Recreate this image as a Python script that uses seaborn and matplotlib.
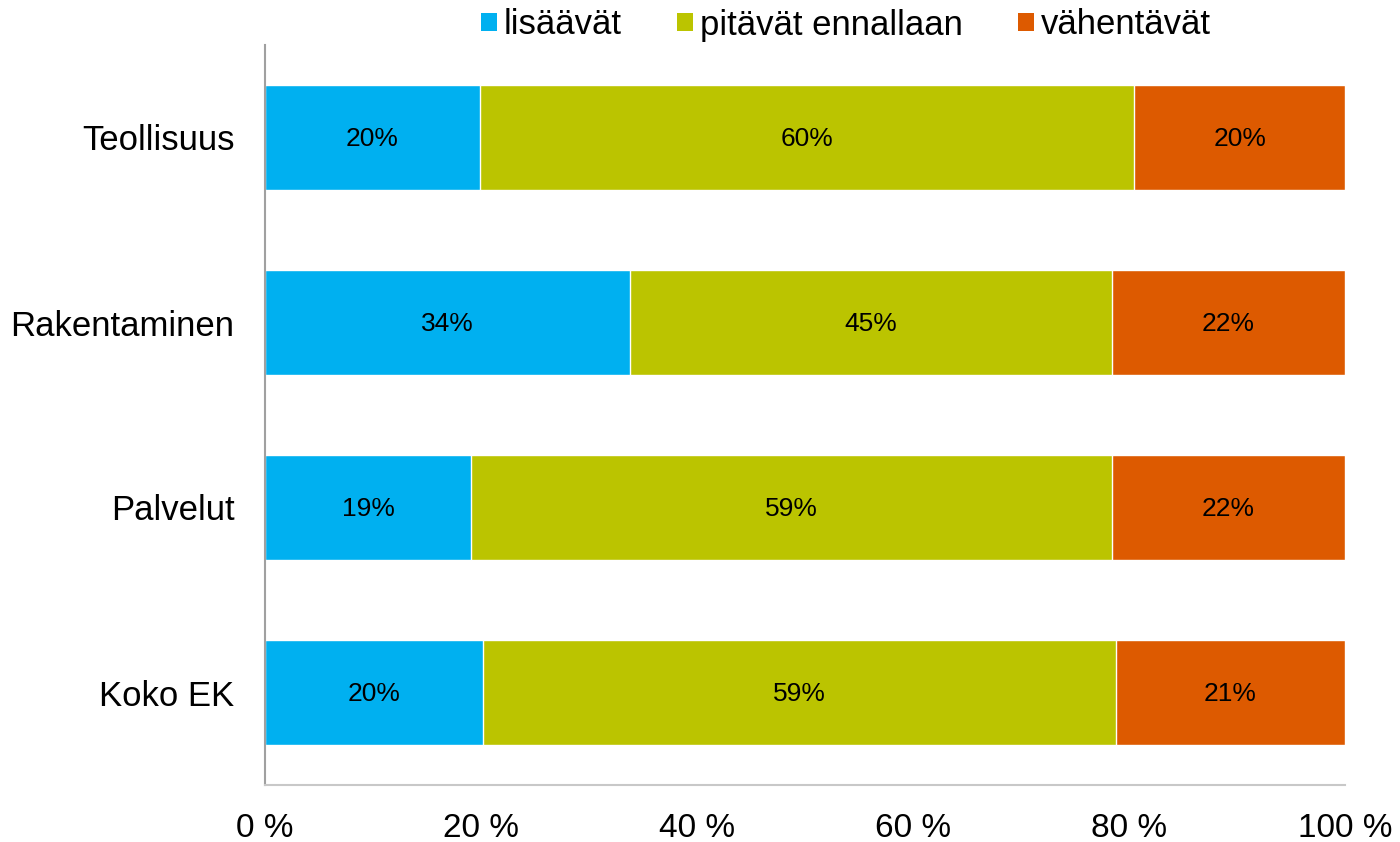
import pandas as pd
import matplotlib.pyplot as plt
import seaborn as sns
from matplotlib.patches import Patch

# Data (share of respondents, %)
categories = ['Teollisuus', 'Rakentaminen', 'Palvelut', 'Koko EK']
lisaavat = [19.9, 33.8, 19.1, 20.2]
pitavat = [60.6, 44.6, 59.3, 58.6]
vahentavat = [19.5, 21.6, 21.6, 21.2]
labels_lis = ['20%', '34%', '19%', '20%']
labels_pit = ['60%', '45%', '59%', '59%']
labels_vah = ['20%', '22%', '22%', '21%']
series_names = ['lisäävät', 'pitävät ennallaan', 'vähentävät']
colors = ['#00B0F0', '#BBC400', '#DD5A00']
x_ticks = [0, 20, 40, 60, 80, 100]

sns.set_style('white')
plt.rcParams['font.family'] = ['Liberation Sans', 'DejaVu Sans']
plt.rcParams['text.color'] = 'black'
plt.rcParams['xtick.color'] = 'black'
plt.rcParams['ytick.color'] = 'black'

df = pd.DataFrame({'kategoria': categories, 'lis': lisaavat, 'pit': pitavat, 'vah': vahentavat})
df['cum1'] = df['lis'] + df['pit']
df['cum2'] = df['cum1'] + df['vah']

fig = plt.figure(figsize=(14, 8.42), dpi=100)
ax = fig.add_axes([265 / 1400, 1 - 785 / 842, 1080 / 1400, 740 / 842])

# stacked: draw cumulative totals back to front
sns.barplot(data=df, y='kategoria', x='cum2', color=colors[2], orient='h', width=0.57, ax=ax, saturation=1)
sns.barplot(data=df, y='kategoria', x='cum1', color=colors[1], orient='h', width=0.57, ax=ax, saturation=1)
sns.barplot(data=df, y='kategoria', x='lis', color=colors[0], orient='h', width=0.57, ax=ax, saturation=1)

for i in range(len(categories)):
    ax.text(df['lis'][i] / 2, i + 0.01, labels_lis[i], ha='center', va='center', fontsize=19)
    ax.text(df['lis'][i] + df['pit'][i] / 2, i + 0.01, labels_pit[i], ha='center', va='center', fontsize=19)
    ax.text(df['cum1'][i] + df['vah'][i] / 2, i + 0.01, labels_vah[i], ha='center', va='center', fontsize=19)

ax.set_xlim(0, 100)
ax.set_ylim(3.5, -0.5)
ax.set_xticks(x_ticks)
ax.set_xticklabels([f'{t} %' for t in x_ticks], fontsize=24)
ax.tick_params(axis='x', length=0, pad=20)
ax.tick_params(axis='y', length=0, pad=22, labelsize=25)
ax.set_xlabel('')
ax.set_ylabel('')
for s in ['top', 'right']:
    ax.spines[s].set_visible(False)
ax.spines['left'].set_color('#A0A0A0')
ax.spines['bottom'].set_color('#C8C8C8')
ax.spines['left'].set_linewidth(1.5)
ax.spines['bottom'].set_linewidth(1.5)

handles = [Patch(facecolor=c, edgecolor='none') for c in colors]
fig.legend(handles, series_names, loc='center', bbox_to_anchor=(846 / 1400, 1 - 25 / 842), ncol=3,
           frameon=False, fontsize=25, handlelength=0.45, handleheight=0.45, handletextpad=0.2,
           columnspacing=1.6)

fig.savefig('out.png', dpi=100)
